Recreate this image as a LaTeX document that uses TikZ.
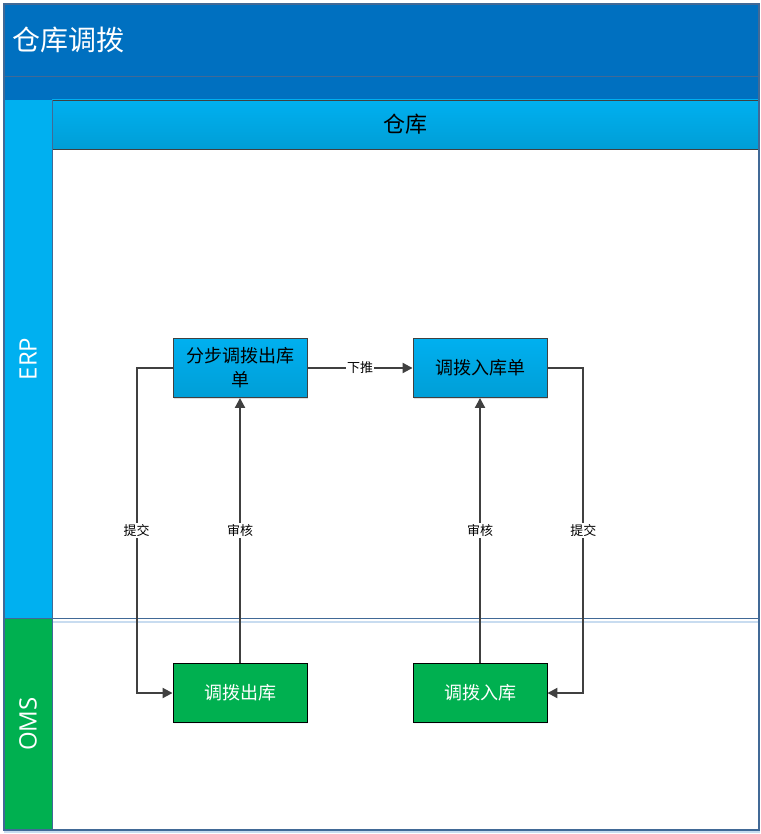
\documentclass[tikz,border=0pt]{standalone}
\usepackage{fontspec}
\setmainfont{Noto Sans CJK SC}
\newfontfamily\cjk{Noto Sans CJK SC}
\newfontfamily\latin{Open Sans}
\usetikzlibrary{arrows.meta,shadows}
\definecolor{titleblue}{RGB}{0,112,192}
\definecolor{cyanA}{RGB}{0,176,240}
\definecolor{cyanB}{RGB}{0,158,214}
\definecolor{greenL}{RGB}{0,176,80}
\definecolor{frameC}{RGB}{65,105,150}
\definecolor{edgeC}{RGB}{64,64,64}
\definecolor{sepLight}{RGB}{200,220,240}
\tikzset{
  x=1pt,y=-1pt,
  bluebox/.style={draw=edgeC,line width=0.9pt,top color=cyanA,bottom color=cyanB,minimum width=134pt,minimum height=59pt,inner sep=2pt,align=center,font=\cjk\fontsize{18}{24}\selectfont,text=black,drop shadow={shadow xshift=1pt,shadow yshift=-1.5pt,opacity=0.25}},
  greenbox/.style={draw=black,line width=0.9pt,fill=greenL,minimum width=134pt,minimum height=59pt,inner sep=2pt,align=center,font=\cjk\fontsize{18}{22}\selectfont,text=white,drop shadow={shadow xshift=1pt,shadow yshift=-1.5pt,opacity=0.25,fill=sepLight}},
  conn/.style={draw=edgeC,line width=2pt,-{Triangle[length=10pt,width=10pt]}},
  lbl/.style={fill=white,inner sep=1pt,font=\cjk\fontsize{13}{15}\selectfont,text=black},
}
\begin{document}
\begin{tikzpicture}
\useasboundingbox (0,0) rectangle (760,834);
\fill[white] (0,0) rectangle (760,834);
% title bar
\fill[titleblue] (4,4) rectangle (759,100);
\draw[frameC,line width=0.8pt] (4,76) -- (759,76);
\node[anchor=west,text=white,font=\cjk\fontsize{28}{30}\selectfont] (title) at (9,40) {仓库调拨};
% lane header
\shade[top color=cyanA,bottom color=cyanB] (52,100) rectangle (759,149);
\draw[edgeC,line width=0.9pt] (52,100) rectangle (759,149);
\node[font=\cjk\fontsize{22}{24}\selectfont,text=black] (hdr) at (405,124) {仓库};
% lane labels
\fill[cyanA] (4,100) rectangle (52,618);
\fill[greenL] (4,618) rectangle (52,830);
\node[rotate=90,text=white,font=\latin\fontsize{24}{26}\selectfont] (erp) at (28,359) {ERP};
\node[rotate=90,text=white,font=\latin\fontsize{24}{26}\selectfont] (oms) at (28,724) {OMS};
% separators
\draw[sepLight,line width=1.5pt] (52,622) -- (759,622);
\draw[frameC,line width=1pt] (4,618) -- (759,618);
\draw[frameC,line width=1pt] (52,100) -- (52,830);
\draw[sepLight,line width=1.5pt] (4,832) -- (760,832);
% outer frame
\draw[frameC,line width=1.2pt] (4,4) rectangle (759,830);
% nodes
\node[bluebox] (fbck) at (240,368) {分步调拨出库\\单};
\node[bluebox] (dbrkd) at (480,368) {调拨入库单};
\node[greenbox] (dbck) at (240,693) {调拨出库};
\node[greenbox] (dbrk) at (480,693) {调拨入库};
% connectors
\draw[conn] (fbck.east) -- node[lbl] {下推} (dbrkd.west);
\draw[conn] (fbck.west) -- ++(-36,0) |- node[lbl,pos=0.25] {提交} (dbck.west);
\draw[conn] (dbck.north) -- node[lbl,pos=0.5] {审核} (fbck.south);
\draw[conn] (dbrk.north) -- node[lbl,pos=0.5] {审核} (dbrkd.south);
\draw[conn] (dbrkd.east) -- ++(36,0) |- node[lbl,pos=0.25] {提交} (dbrk.east);
\end{tikzpicture}
\end{document}
